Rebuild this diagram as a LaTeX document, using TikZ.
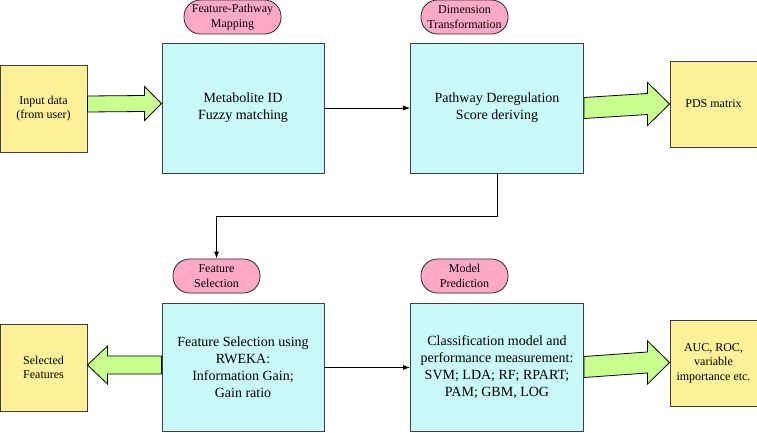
\documentclass[tikz,border=0pt]{standalone}
\usepackage{fontspec}
\setmainfont{Liberation Serif}
\usetikzlibrary{calc,arrows.meta}
\definecolor{ybox}{HTML}{FFF199}
\definecolor{cbox}{HTML}{C9F9FA}
\definecolor{pbox}{HTML}{FFA9C5}
\definecolor{garr}{HTML}{C8FF8F}
\definecolor{edge}{HTML}{404040}
\newcommand\fatarr[6]{%
  \draw[fatarrow] ($(#1)+(0,#6)+(0,#3)$) -- ($(#2)+(0,#6)+({-(#5)},#3)$) -- ($(#2)+(0,#6)+({-(#5)},#4)$) -- ($(#2)+(0,#6)$) -- ($(#2)+(0,#6)+({-(#5)},{-(#4)})$) -- ($(#2)+(0,#6)+({-(#5)},{-(#3)})$) -- ($(#1)+(0,#6)+(0,{-(#3)})$) -- cycle;}
\tikzset{
  x=1pt, y=-1pt,
  ybx/.style={draw=edge, line width=0.9pt, fill=ybox, inner sep=0pt, align=center, font=\fontsize{12}{14.5}\selectfont},
  cbx/.style={draw=edge, line width=0.9pt, fill=cbox, inner sep=0pt, align=center, font=\fontsize{14}{17}\selectfont},
  pill/.style={draw=black!85, line width=0.8pt, fill=pbox, rounded corners=16.5pt, inner sep=0pt, minimum height=34pt, minimum width=87pt, align=center, font=\fontsize{12}{14.5}\selectfont},
  fatarrow/.style={draw=black, line width=0.8pt, fill=garr, line join=miter},
  thin/.style={draw=black, line width=0.8pt, -{Latex[length=7pt,width=5pt]}},
}
\begin{document}
\begin{tikzpicture}
\useasboundingbox (0,0) rectangle (757,433);
% top row
\node[ybx, minimum width=87pt, minimum height=87pt] (in) at (43.5,108.5) {Input data\\(from user)};
\node[cbx, minimum width=162pt, minimum height=130pt] (b1) at (243,108) {Metabolite ID\\Fuzzy matching};
\node[cbx, minimum width=173pt, minimum height=130pt] (b2) at (497,108) {Pathway Deregulation\\Score deriving};
\node[ybx, minimum width=87pt, minimum height=86pt] (pds) at (713.5,104) {PDS matrix};
\node[pill, minimum width=97pt] (l1) at (232.5,17) {Feature-Pathway\\Mapping};
\node[pill] (l2) at (464.5,17) {Dimension\\Transformation};
% bottom row
\node[ybx, minimum width=87pt, minimum height=87pt] (sel) at (43.5,367.5) {Selected\\Features};
\node[cbx, minimum width=162pt, minimum height=128.5pt] (b3) at (243,367.5) {Feature Selection using\\RWEKA:\\Information Gain;\\Gain ratio};
\node[cbx, minimum width=173pt, minimum height=128.5pt] (b4) at (497,367.5) {Classification model and\\performance measurement:\\SVM; LDA; RF; RPART;\\PAM; GBM, LOG};
\node[ybx, minimum width=87pt, minimum height=86pt] (res) at (713.5,363) {AUC, ROC,\\variable\\importance etc.};
\node[pill] (l3) at (216.5,276) {Feature\\Selection};
\node[pill] (l4) at (464.5,276) {Model\\Prediction};
% fat arrows
\fatarr{in.east}{b1.west}{8}{17}{17}{-4.5}
\fatarr{b2.east}{pds.west}{10.5}{21.5}{22}{0}
\fatarr{b3.west}{sel.east}{9}{19}{-20}{-2.5}
\fatarr{b4.east}{res.west}{10.5}{21.5}{22}{-0.5}
% thin connectors
\draw[thin] (b1.east) -- (b2.west);
\draw[thin] (b3.east) -- (b4.west);
\draw[thin] (b2.south) -- ++(0,43) -| (l3.north);
\end{tikzpicture}
\end{document}
